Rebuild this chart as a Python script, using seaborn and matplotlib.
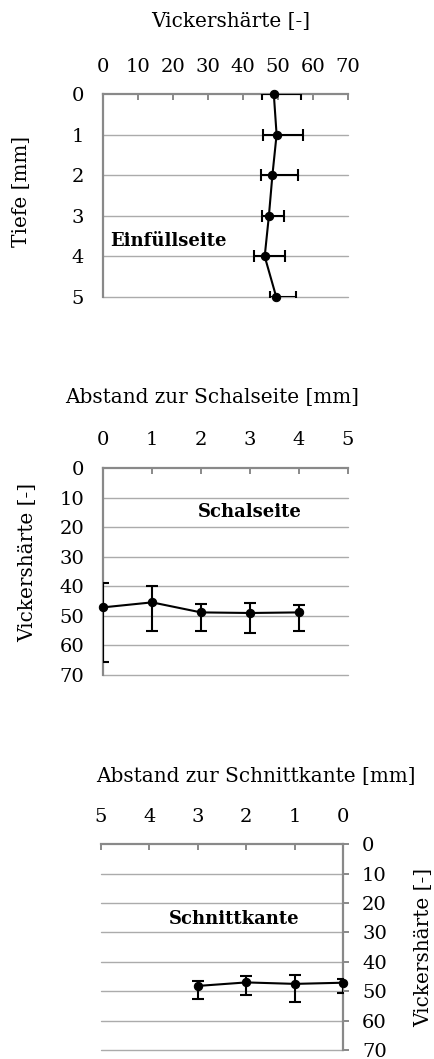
import numpy as np
import pandas as pd
import matplotlib
matplotlib.use("Agg")
import matplotlib.pyplot as plt
import seaborn as sns

# ---------------- data ----------------
depth = [0, 1, 2, 3, 4, 5]
hv_einf = [48.8, 49.6, 48.4, 47.4, 46.2, 49.5]
einf_low = [45.5, 45.8, 45.0, 45.3, 43.1, 47.7]
einf_high = [56.5, 57.2, 55.8, 51.8, 52.1, 55.0]

schal_x = [0, 1, 2, 3, 4]
hv_schal = [47.1, 45.4, 48.8, 49.0, 48.8]
schal_low = [39.0, 39.7, 46.0, 45.5, 46.2]
schal_high = [65.7, 55.1, 55.1, 55.9, 55.1]

schnitt_x = [3, 2, 1, 0]
hv_schnitt = [48.2, 47.0, 47.5, 47.1]
schnitt_low = [46.4, 44.7, 44.4, 45.9]
schnitt_high = [52.5, 51.3, 53.6, 50.5]

hv_ticks = [0, 10, 20, 30, 40, 50, 60, 70]
mm_ticks = [0, 1, 2, 3, 4, 5]

# ---------------- style ----------------
sns.set_theme(style="white")
plt.rcParams['font.family'] = ['DejaVu Serif']
plt.rcParams['text.color'] = 'black'
plt.rcParams['axes.labelcolor'] = 'black'
FS = 14.4     # axis labels
FT = 14       # tick labels
FB = 13       # bold annotations
AX_C = '#898989'
GRID_C = '#ababab'

fig = plt.figure(figsize=(4.35, 10.59), dpi=100)

def style_common(ax):
    for s in ax.spines.values():
        s.set_visible(False)
    ax.tick_params(colors=AX_C, labelcolor='black', labelsize=FT, width=1.4, length=4.5)
    ax.set_facecolor('white')

def draw(ax, x, y, xe, ye):
    ax.errorbar(x, y, xerr=xe, yerr=ye, fmt='none', ecolor='black',
                elinewidth=1.5, capsize=4.3, capthick=1.5, zorder=4)
    df = pd.DataFrame({'x': x, 'y': y})
    sns.lineplot(data=df, x='x', y='y', sort=False, estimator=None, ax=ax,
                 color='black', lw=1.5, marker='o', markersize=6,
                 markeredgecolor='black', clip_on=False, zorder=5)

def show_spine(ax, name):
    ax.spines[name].set_visible(True)
    ax.spines[name].set_color(AX_C)
    ax.spines[name].set_linewidth(1.6)

# ---------- panel 1: Einfüllseite ----------
ax1 = fig.add_axes([103/435, 1-297/1059, 245/435, 203/1059])
style_common(ax1)
e1 = np.array(hv_einf)
draw(ax1, hv_einf, depth, [e1 - np.array(einf_low), np.array(einf_high) - e1], None)
ax1.set_xlim(0, 70)
ax1.set_ylim(5, 0)
ax1.set_xticks(hv_ticks)
ax1.set_yticks(depth)
ax1.xaxis.tick_top()
ax1.tick_params(axis='x', direction='in', pad=13)
ax1.tick_params(axis='y', direction='out', pad=9)
for yv in depth[1:]:
    ax1.axhline(yv, color=GRID_C, lw=1, zorder=1, clip_on=False)
show_spine(ax1, 'top'); show_spine(ax1, 'left')
ax1.set_xlabel('Vickershärte [-]', fontsize=FS)
ax1.set_ylabel('Tiefe [mm]', fontsize=FS)
ax1.xaxis.set_label_position('top')
ax1.xaxis.set_label_coords((231-103)/245, (297-21)/203)
ax1.xaxis.label.set_va('center')
ax1.yaxis.set_label_coords((22-103)/245, (297-191)/203)
ax1.yaxis.label.set_va('center')
ax1.text(18.6, 3.62, 'Einfüllseite', fontsize=FB, fontweight='bold',
         ha='center', va='center', color='black')

# ---------- panel 2: Schalseite ----------
ax2 = fig.add_axes([103/435, 1-675/1059, 245/435, 206.7/1059])
style_common(ax2)
s2 = np.array(hv_schal)
draw(ax2, schal_x, hv_schal, None, [s2 - np.array(schal_low), np.array(schal_high) - s2])
ax2.set_xlim(0, 5)
ax2.set_ylim(70, 0)
ax2.set_xticks(mm_ticks)
ax2.set_yticks(hv_ticks)
ax2.xaxis.tick_top()
ax2.tick_params(axis='x', direction='in', pad=14)
ax2.tick_params(axis='y', direction='out', pad=9)
for yv in hv_ticks[1:]:
    ax2.axhline(yv, color=GRID_C, lw=1, zorder=1, clip_on=False)
show_spine(ax2, 'top'); show_spine(ax2, 'left')
ax2.set_xlabel('Abstand zur Schalseite [mm]', fontsize=FS)
ax2.set_ylabel('Vickershärte [-]', fontsize=FS)
ax2.xaxis.set_label_position('top')
ax2.xaxis.set_label_coords((212-103)/245, (675-397)/206.7)
ax2.xaxis.label.set_va('center')
ax2.yaxis.set_label_coords((27.5-103)/245, (675-562.5)/206.7)
ax2.yaxis.label.set_va('center')
ax2.text(3.0, 14.7, 'Schalseite', fontsize=FB, fontweight='bold',
         ha='center', va='center', color='black')

# ---------- panel 3: Schnittkante ----------
ax3 = fig.add_axes([100.7/435, 1-1050/1059, 242.6/435, 205.7/1059])
style_common(ax3)
s3 = np.array(hv_schnitt)
draw(ax3, schnitt_x, hv_schnitt, None, [s3 - np.array(schnitt_low), np.array(schnitt_high) - s3])
ax3.set_xlim(5, 0)
ax3.set_ylim(70, 0)
ax3.set_xticks(mm_ticks)
ax3.set_yticks(hv_ticks)
ax3.xaxis.tick_top()
ax3.yaxis.tick_right()
ax3.tick_params(axis='x', direction='in', pad=13)
ax3.tick_params(axis='y', direction='out', pad=9)
for yv in hv_ticks[1:]:
    ax3.axhline(yv, color=GRID_C, lw=1, zorder=1, clip_on=False)
show_spine(ax3, 'top'); show_spine(ax3, 'right')
ax3.set_xlabel('Abstand zur Schnittkante [mm]', fontsize=FS)
ax3.set_ylabel('Vickershärte [-]', fontsize=FS)
ax3.xaxis.set_label_position('top')
ax3.yaxis.set_label_position('right')
ax3.xaxis.set_label_coords((256-100.7)/242.6, (1050-777)/205.7)
ax3.xaxis.label.set_va('center')
ax3.yaxis.set_label_coords((423.3-100.7)/242.6, (1050-947)/205.7)
ax3.yaxis.label.set_va('center')
ax3.yaxis.label.set_rotation(90)
ax3.text(2.25, 25.5, 'Schnittkante', fontsize=FB, fontweight='bold',
         ha='center', va='center', color='black')

fig.savefig('out.png', dpi=100)
